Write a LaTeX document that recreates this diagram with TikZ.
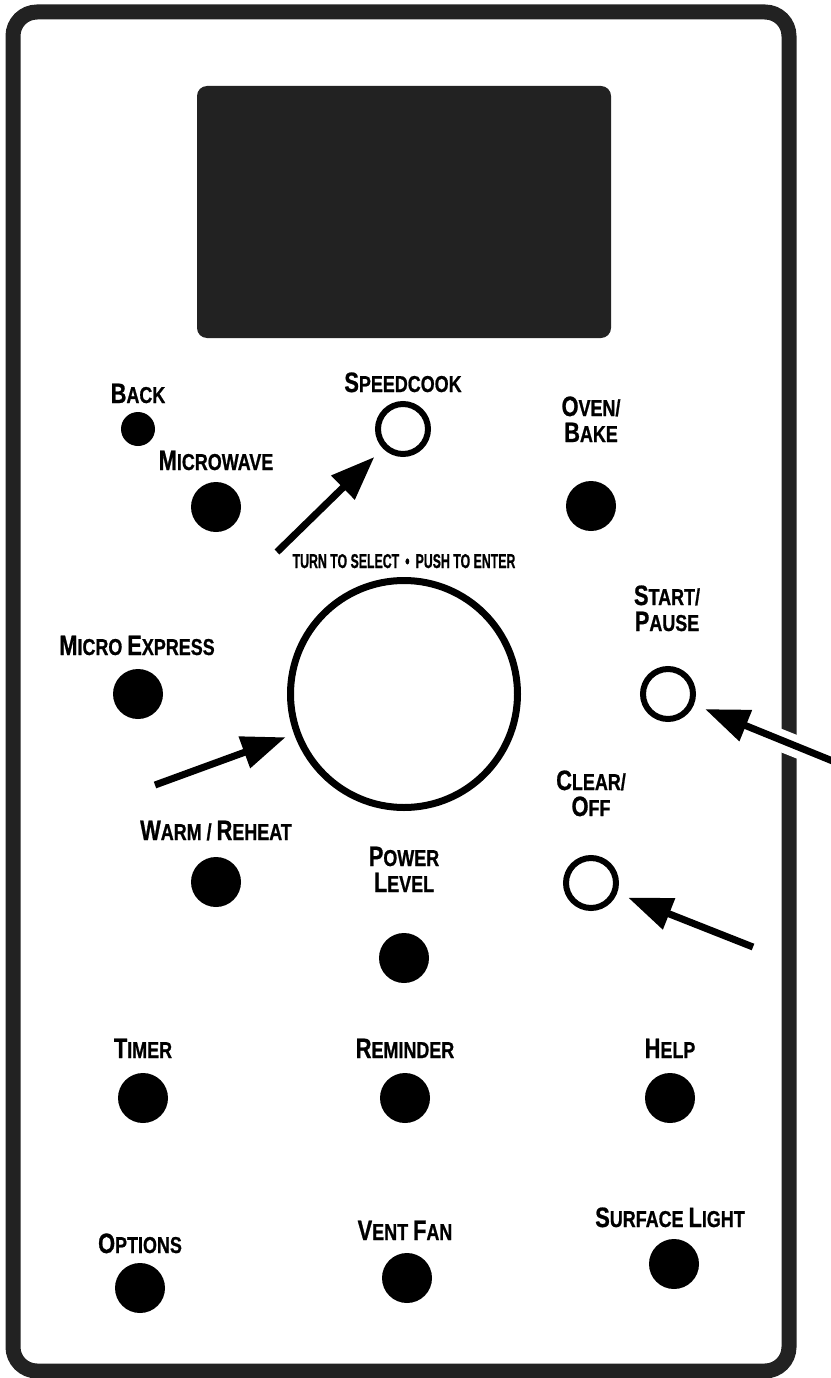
\documentclass[tikz,border=0pt]{standalone}
\usepackage{fontspec}
\newfontfamily\panelfont{Liberation Sans}[FakeStretch=0.78, BoldFeatures={FakeBold=0.8}]
\usetikzlibrary{arrows.meta}
\definecolor{cornice}{HTML}{222222}
\newcommand{\iniz}[1]{{\fontsize{28}{28}\selectfont #1}}

\begin{document}
\begin{tikzpicture}[x=1pt, y=-1pt,
    tasto/.style={circle, fill=black, minimum size=50pt, inner sep=0pt},
    tastovuoto/.style={circle, draw=black, line width=6pt, minimum size=50pt, inner sep=0pt},
    etichetta/.style={anchor=base, align=center, inner sep=0pt, font=\panelfont\bfseries\fontsize{23}{26}\selectfont},
    freccia/.style={line width=7pt, -{Triangle[length=44pt, width=32pt]}}]
    \useasboundingbox (0,0) rectangle (830,1378);

    % Cornice e display
    \draw[cornice, line width=15pt, rounded corners=24pt] (13,12) rectangle (789,1371);
    \fill[cornice, rounded corners=10pt] (197,86) rectangle (611,338);

    % Tasti pieni
    \node[tasto, minimum size=34pt] (back) at (138,429) {};
    \foreach \nome/\x/\y in {microwave/216/507, ovenbake/591/506, microexpress/138/694,
        warmreheat/216/882, powerlevel/404/958, timer/143/1098, reminder/405/1098,
        help/670/1098, options/140/1288, ventfan/407/1278, surfacelight/674/1264} {
        \node[tasto] (\nome) at (\x,\y) {};
    }

    % Tasti vuoti e manopola
    \node[tastovuoto] (speedcook) at (403,429) {};
    \node[tastovuoto] (startpause) at (668,694) {};
    \node[tastovuoto] (clearoff) at (591,883) {};
    \node[circle, draw=black, line width=7pt, minimum size=227pt, inner sep=0pt] (manopola) at (404,694) {};

    % Etichette
    \node[etichetta] at (138,403) {\iniz{B}ACK};
    \node[etichetta] at (403,392) {\iniz{S}PEEDCOOK};
    \node[etichetta] at (216,470) {\iniz{M}ICROWAVE};
    \node[etichetta] at (591,442) {\iniz{O}VEN/\\\iniz{B}AKE};
    \node[etichetta] at (137,655) {\iniz{M}ICRO \iniz{E}XPRESS};
    \node[etichetta] at (667,631) {\iniz{S}TART/\\\iniz{P}AUSE};
    \node[anchor=base, inner sep=0pt, font=\panelfont\bfseries\fontsize{20}{20}\selectfont] at (404,568)
        {\scalebox{0.79}[1]{TURN TO SELECT \,\textbullet\, PUSH TO ENTER}};
    \node[etichetta] at (216,840) {\iniz{W}ARM / \iniz{R}EHEAT};
    \node[etichetta] at (591,816) {\iniz{C}LEAR/\\\iniz{O}FF};
    \node[etichetta] at (404,892) {\iniz{P}OWER\\\iniz{L}EVEL};
    \node[etichetta] at (143,1058) {\iniz{T}IMER};
    \node[etichetta] at (405,1058) {\iniz{R}EMINDER};
    \node[etichetta] at (670,1058) {\iniz{H}ELP};
    \node[etichetta] at (140,1253) {\iniz{O}PTIONS};
    \node[etichetta] at (405,1240) {\iniz{V}ENT \iniz{F}AN};
    \node[etichetta] at (670,1227) {\iniz{S}URFACE \iniz{L}IGHT};

    % Frecce
    \coordinate (codaSC) at (277,552);
    \coordinate (codaMN) at (155,785);
    \coordinate (codaSP) at (840,764);
    \coordinate (aloneSP) at (755,730);
    \coordinate (codaCO) at (753,947);
    \draw[white, line width=22pt] (codaSP) -- (aloneSP);
    \draw[freccia, shorten >=12pt] (codaSC) -- (speedcook);
    \draw[freccia, shorten >=9pt] (codaMN) -- (manopola);
    \draw[freccia, shorten >=12pt] (codaSP) -- (startpause);
    \draw[freccia, shorten >=12pt] (codaCO) -- (clearoff);
\end{tikzpicture}
\end{document}
